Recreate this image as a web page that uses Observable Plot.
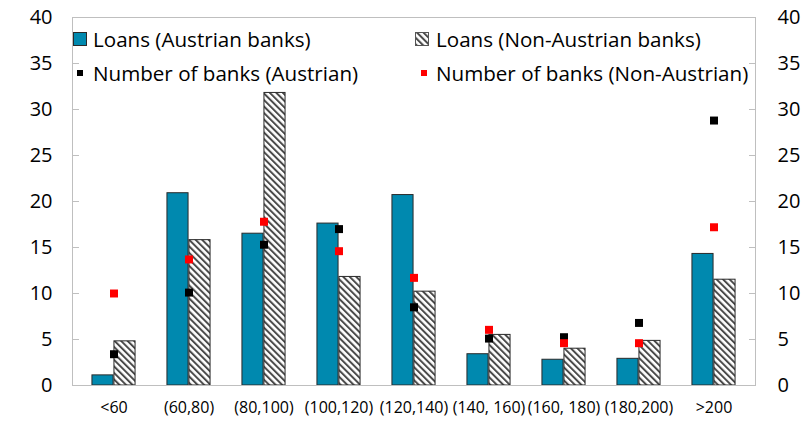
<!DOCTYPE html>
<html><head><meta charset="utf-8">
<script src="https://cdn.jsdelivr.net/npm/d3@7"></script>
<script src="https://cdn.jsdelivr.net/npm/@observablehq/plot@0.6"></script>
<style>
body{margin:0;background:#fff;font-family:"Open Sans",sans-serif;}
#wrap{position:relative;width:804px;height:421px;overflow:hidden;}
.lt{position:absolute;font-size:20.6px;color:#000;white-space:nowrap;height:24px;line-height:24px;}
.sw{position:absolute;box-sizing:border-box;}
</style></head><body><div id="wrap"></div>
<script>
const categories = ["<60", "(60,80)", "(80,100)", "(100,120)", "(120,140)", "(140, 160)", "(160, 180)", "(180,200)", ">200"];
const loansAustrian = [1.1, 20.9, 16.5, 17.6, 20.7, 3.4, 2.8, 2.9, 14.3];
const loansNonAustrian = [4.8, 15.8, 31.8, 11.8, 10.2, 5.5, 4.0, 4.85, 11.5];
const banksAustrian = [3.4, 10.1, 15.3, 17.0, 8.5, 5.1, 5.25, 6.8, 28.8];
const banksNonAustrian = [10.0, 13.7, 17.8, 14.6, 11.7, 6.05, 4.6, 4.6, 17.2];
const yTicks = [0, 5, 10, 15, 20, 25, 30, 35, 40];
const seriesNames = ["Loans (Austrian banks)", "Loans (Non-Austrian banks)", "Number of banks (Austrian)", "Number of banks (Non-Austrian)"];

const rows = categories.map((c, i) => ({cat: c, la: loansAustrian[i], ln: loansNonAustrian[i], ba: banksAustrian[i], bn: banksNonAustrian[i]}));

const W = 804, H = 421, mL = 72, mR = 49, mT = 17, mB = 36;
const step = (W - mL - mR) / categories.length;
const barW = 22;
const teal = "#0089AF";
const barStroke = "#2a2a2a";
const grid = "#bfbfbf";

const chart = Plot.plot({
  width: W, height: H, marginTop: mT, marginBottom: mB, marginLeft: mL, marginRight: mR,
  style: {fontFamily: "Open Sans, sans-serif", fontSize: "20px", color: "#000", background: "#fff"},
  x: {domain: categories, padding: 0, label: null},
  y: {domain: [0, 40], label: null},
  marks: [
    Plot.barY(rows, {x: "cat", y: "la", fill: teal, stroke: barStroke, strokeWidth: 1, insetLeft: step / 2 - barW, insetRight: step / 2}),
    Plot.barY(rows, {x: "cat", y: "ln", fill: "url(#hatch)", stroke: barStroke, strokeWidth: 1, insetLeft: step / 2, insetRight: step / 2 - barW}),
    Plot.frame({stroke: grid}),
    Plot.axisY(yTicks, {anchor: "left", tickSize: -7, tickPadding: 27, stroke: grid, fill: "#000", fontSize: 20}),
    Plot.axisY(yTicks, {anchor: "right", tickSize: -7, tickPadding: 29, stroke: grid, fill: "#000", fontSize: 20}),
    Plot.axisX({anchor: "bottom", tickSize: 0, tickPadding: 16, fill: "#000", fontSize: 16}),
    Plot.dot(rows, {x: "cat", y: "ba", symbol: "square", r: 4.5, fill: "#000"}),
    Plot.dot(rows, {x: "cat", y: "bn", symbol: "square", r: 4.5, fill: "#ff0000"})
  ]
});

const patternDef = '<pattern id="hatch" patternUnits="userSpaceOnUse" width="4.6" height="4.6" patternTransform="rotate(-45)"><rect width="4.6" height="4.6" fill="#fff"/><rect width="2" height="4.6" fill="#4a4a4a"/></pattern>';
d3.select(chart).insert("defs", ":first-child").html(patternDef);

const wrap = document.getElementById("wrap");
wrap.appendChild(chart);

function addSwatch(left, top, w, h, style) {
  const d = document.createElement("div");
  d.className = "sw";
  Object.assign(d.style, {left: left + "px", top: top + "px", width: w + "px", height: h + "px"}, style);
  wrap.appendChild(d);
  return d;
}
function addText(left, centerY, text) {
  const s = document.createElement("div");
  s.className = "lt";
  s.textContent = text;
  s.style.left = left + "px";
  s.style.top = (centerY - 12) + "px";
  wrap.appendChild(s);
}
addSwatch(73, 32, 14, 14, {background: teal, border: "1px solid " + barStroke});
addText(93, 39, seriesNames[0]);
const hs = addSwatch(415, 32, 14, 14, {border: "1px solid #555"});
hs.innerHTML = '<svg width="12" height="12" style="display:block"><rect width="12" height="12" fill="url(#hatch)"/></svg>';
addText(436, 39, seriesNames[1]);
addSwatch(77, 70, 6, 6, {background: "#000"});
addText(93, 73, seriesNames[2]);
addSwatch(421, 70, 6, 6, {background: "#ff0000"});
addText(436, 73, seriesNames[3]);
</script></body></html>
